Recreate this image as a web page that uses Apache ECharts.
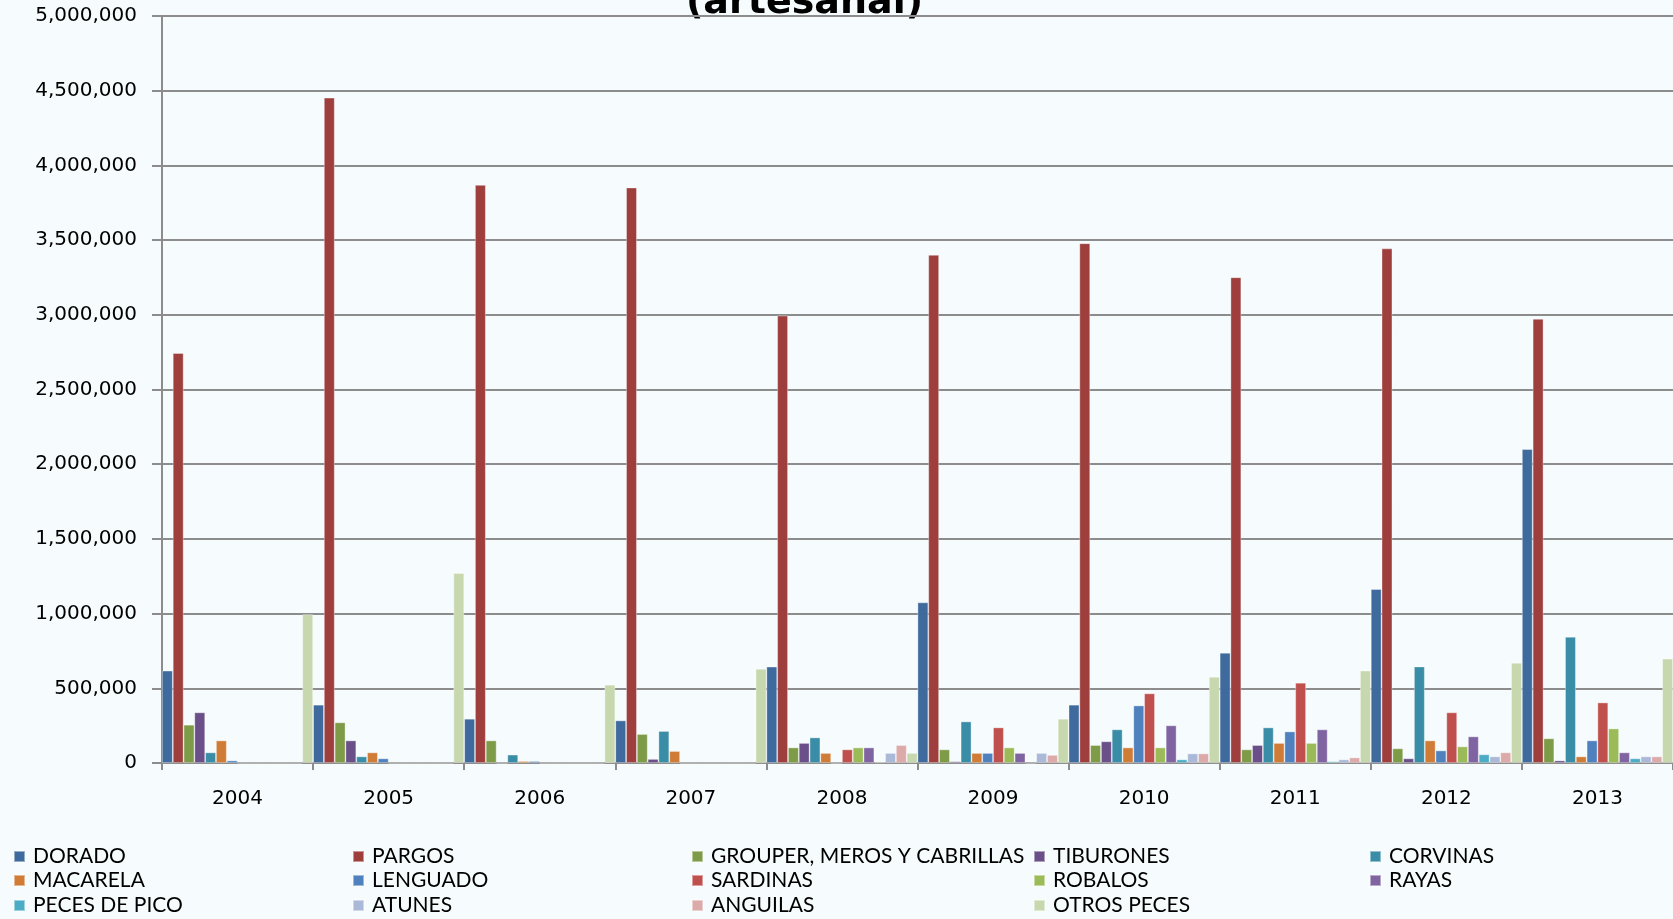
<!DOCTYPE html>
<html>
<head>
<meta charset="utf-8">
<script src="https://cdn.jsdelivr.net/npm/echarts@6/dist/echarts.min.js"></script>
<style>
  html, body { margin: 0; padding: 0; background: #F6FCFD; }
  #chart { width: 1673px; height: 919px; }
</style>
</head>
<body>
<div id="chart"></div>
<script>
const years = ['2004','2005','2006','2007','2008','2009','2010','2011','2012','2013'];
const yTicks = [0, 500000, 1000000, 1500000, 2000000, 2500000, 3000000, 3500000, 4000000, 4500000, 5000000];
const titleText = '(artesanal)';

const seriesNames = ['DORADO','PARGOS','GROUPER, MEROS Y CABRILLAS','TIBURONES','CORVINAS','MACARELA','LENGUADO','SARDINAS','ROBALOS','RAYAS','PECES DE PICO','ATUNES','ANGUILAS','OTROS PECES'];

const dorado     = [618000, 390000, 296000, 285000, 645000, 1075000, 390000, 738000, 1164000, 2101000];
const pargos     = [2744000, 4453000, 3869000, 3852000, 2995000, 3401000, 3479000, 3251000, 3444000, 2973000];
const grouper    = [256000, 272000, 151000, 194000, 104000, 91000, 120000, 91000, 98000, 165000];
const tiburones  = [339000, 151000, 0, 27000, 134000, 11000, 145000, 120000, 31000, 17000];
const corvinas   = [71000, 44000, 56000, 214000, 171000, 278000, 225000, 238000, 646000, 845000];
const macarela   = [151000, 71000, 13000, 80000, 67000, 67000, 104000, 134000, 151000, 44000];
const lenguado   = [17000, 31000, 13000, 0, 0, 67000, 385000, 211000, 84000, 151000];
const sardinas   = [0, 0, 0, 0, 91000, 238000, 466000, 537000, 339000, 405000];
const robalos    = [0, 0, 0, 0, 104000, 104000, 104000, 134000, 111000, 231000];
const rayas      = [0, 0, 0, 0, 104000, 67000, 252000, 225000, 178000, 71000];
const pecesPico  = [0, 0, 0, 0, 5000, 0, 24000, 11000, 58000, 31000];
const atunes     = [0, 0, 0, 0, 67000, 67000, 64000, 24000, 44000, 44000];
const anguilas   = [0, 0, 0, 0, 120000, 54000, 64000, 37000, 71000, 44000];
const otrosPeces = [995000, 1271000, 524000, 631000, 67000, 296000, 577000, 618000, 671000, 698000];

const seriesData = [dorado, pargos, grouper, tiburones, corvinas, macarela, lenguado, sardinas, robalos, rayas, pecesPico, atunes, anguilas, otrosPeces];
const colors = ['#3F6A9E','#9E3F3E','#7E9B48','#6A4F88','#3A8DA6','#D07C37','#4E81BE','#C0504D','#9BBB59','#8064A2','#4BACC6','#AAB9D8','#DBAAA9','#C7D7AE'];

const chart = echarts.init(document.getElementById('chart'), null, { renderer: 'canvas' });

const fmt = v => String(v).replace(/\B(?=(\d{3})+(?!\d))/g, ',');

// legend layout: 5 columns x 3 rows (row-major)
const legendCols = [13, 352, 691, 1033, 1369];
const legendRowsCenter = [857, 881, 906];
const legends = seriesNames.map((name, i) => ({
  data: [name],
  left: legendCols[i % 5],
  top: legendRowsCenter[Math.floor(i / 5)] - 11,
  padding: 0,
  itemWidth: 11,
  itemHeight: 11,
  icon: 'rect',
  selectedMode: false,
  textStyle: { fontFamily: 'Lato', fontSize: 21, color: '#000', padding: [0, 0, 0, 3] }
}));

const option = {
  backgroundColor: '#F6FCFD',
  animation: false,
  color: colors,
  graphic: [{
    type: 'text',
    left: 806 - 120,
    top: -16,
    style: {
      text: titleText,
      font: 'bold 38px "DejaVu Sans"',
      fill: '#000'
    }
  }],
  legend: legends,
  grid: { left: 162, right: 0, top: 16, bottom: 156, containLabel: false },
  xAxis: {
    type: 'category',
    data: years,
    boundaryGap: true,
    axisLine: { lineStyle: { color: '#8c8c8c', width: 2 } },
    axisTick: { show: true, length: 7, lineStyle: { color: '#8c8c8c', width: 2 } },
    axisLabel: { fontFamily: 'DejaVu Sans', fontSize: 20, color: '#000', margin: 26 }
  },
  yAxis: {
    type: 'value',
    min: yTicks[0],
    max: yTicks[yTicks.length - 1],
    interval: yTicks[1] - yTicks[0],
    axisLine: { show: true, lineStyle: { color: '#8c8c8c', width: 2 } },
    axisTick: { show: true, length: 10, lineStyle: { color: '#8c8c8c', width: 2 } },
    splitLine: { show: true, lineStyle: { color: '#8c8c8c', width: 2 } },
    axisLabel: { fontFamily: 'DejaVu Sans', fontSize: 20, color: '#000', margin: 25, formatter: fmt }
  },
  series: seriesNames.map((name, i) => ({
    name: name,
    type: 'bar',
    data: seriesData[i],
    barGap: '0%',
    barCategoryGap: '0%',
    itemStyle: { color: colors[i], borderColor: 'rgba(255,255,255,0.45)', borderWidth: 0.8 }
  }))
};

chart.setOption(option);
</script>
</body>
</html>
